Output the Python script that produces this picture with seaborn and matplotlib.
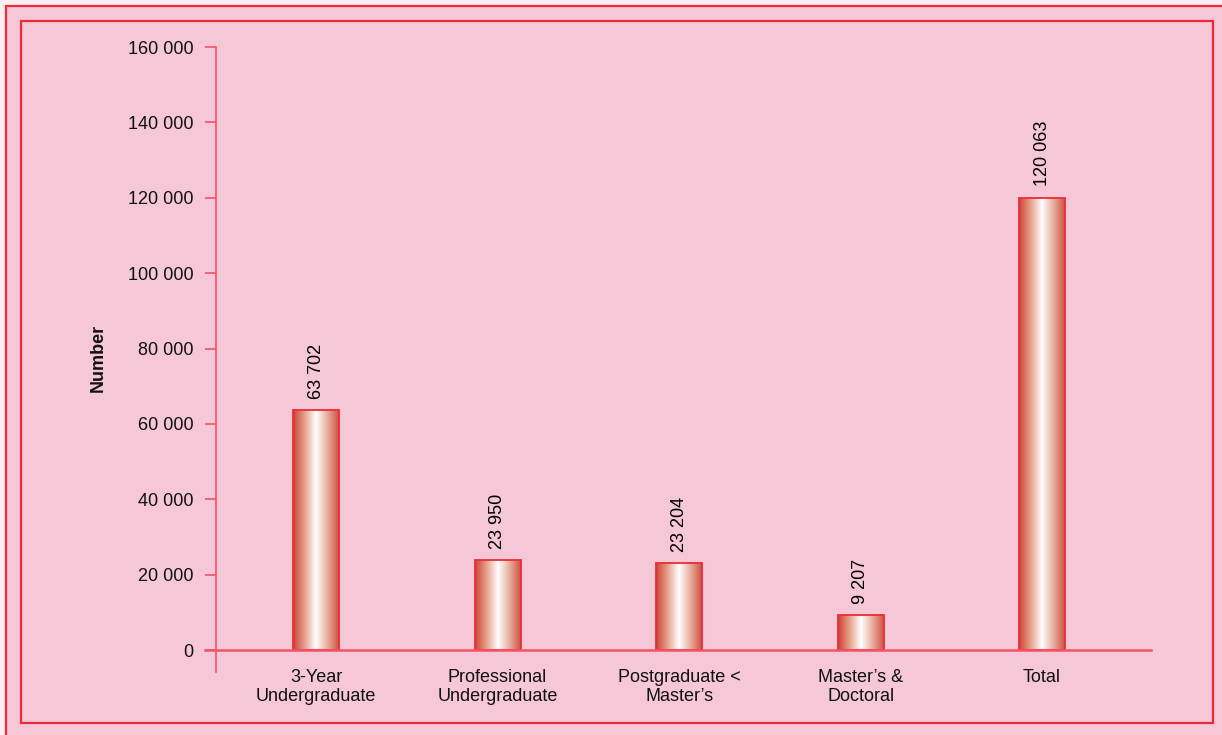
import numpy as np
import pandas as pd
import matplotlib
matplotlib.use("Agg")
import matplotlib.pyplot as plt
from matplotlib.patches import Rectangle
from matplotlib.colors import LinearSegmentedColormap
import seaborn as sns

categories = ["3-Year\nUndergraduate", "Professional\nUndergraduate", "Postgraduate <\nMaster\u2019s",
              "Master\u2019s &\nDoctoral", "Total"]
values = [63702, 23950, 23204, 9207, 120063]
value_labels = ["63 702", "23 950", "23 204", "9 207", "120 063"]
yticks = [0, 20000, 40000, 60000, 80000, 100000, 120000, 140000, 160000]
ytick_labels = ["0", "20 000", "40 000", "60 000", "80 000", "100 000", "120 000", "140 000", "160 000"]

sns.set_theme(style="white")
plt.rcParams['font.family'] = ['Liberation Sans', 'DejaVu Sans']

PINK = "#f5c7d7"
RED = "#ee2a36"
AXRED = "#f25466"

W, H = 1222, 735
fig = plt.figure(figsize=(W / 100, H / 100), dpi=100)
fig.patch.set_facecolor("#fdeef2")

# outer pink panel with red left/top border
fig.patches.append(Rectangle((6 / W, -0.2), 1.2, (1 - 6 / H) + 0.2, transform=fig.transFigure,
                             facecolor=PINK, edgecolor=RED, linewidth=1.6, zorder=-2))
# inner frame
fig.patches.append(Rectangle((21 / W, 1 - 723 / H), (1213 - 21) / W, (723 - 21) / H,
                             transform=fig.transFigure, facecolor="none", edgecolor=RED,
                             linewidth=1.6, zorder=-1))

ax_left, ax_right = 205 / W, 1151 / W
ax_bottom, ax_top = 1 - 672 / H, 1 - 47 / H
ax = fig.add_axes([ax_left, ax_bottom, ax_right - ax_left, ax_top - ax_bottom])
ax.set_facecolor("none")

df = pd.DataFrame({"cat": categories, "val": values})
sns.barplot(data=df, x="cat", y="val", ax=ax, width=0.253, color="white",
            edgecolor=RED, linewidth=1.3, zorder=3)

cmap = LinearSegmentedColormap.from_list("g", ["#cc4236", "#e6a08a", "#ffffff", "#e9ae9c", "#cf5244"])
grad = np.linspace(0, 1, 256).reshape(1, -1)
for p in ax.patches:
    x0, y0 = p.get_x(), p.get_y()
    w, h = p.get_width(), p.get_height()
    im = ax.imshow(grad, cmap=cmap, extent=[x0, x0 + w, y0, y0 + h], aspect="auto", zorder=2.5,
                   interpolation="bicubic")
    im.set_clip_path(p)
    p.set_facecolor("none")

ylo = -5800
ax.set_ylim(ylo, 160000)
ax.set_xlim(-0.612, 4.60)

for i, (v, lab) in enumerate(zip(values, value_labels)):
    ax.annotate(lab, (i, v), xytext=(0, 8), textcoords="offset points", rotation=90,
                ha="center", va="bottom", fontsize=13, color="black")

ax.set_yticks(yticks)
ax.set_yticklabels(ytick_labels)
ax.set_xticks(range(len(categories)))
ax.set_xticklabels(categories, linespacing=1.45)
ax.tick_params(axis="y", length=8, width=1.2, color=AXRED, pad=8.5, left=True,
               labelsize=13, labelcolor="#111111")
ax.tick_params(axis="x", length=0, pad=13.5, labelsize=13, labelcolor="#111111")

for s in ["top", "right"]:
    ax.spines[s].set_visible(False)
ax.spines["left"].set_position(("data", -0.551))
ax.spines["left"].set_color(AXRED)
ax.spines["left"].set_linewidth(1.2)
ax.spines["bottom"].set_position(("data", 0))
ax.spines["bottom"].set_color(AXRED)
ax.spines["bottom"].set_linewidth(1.8)
ax.spines["bottom"].set_zorder(4)

ax.set_xlabel("")
ax.set_ylabel("")
fig.text(98 / W, 1 - 358 / H, "Number", rotation=90, ha="center", va="center",
         fontsize=13, fontweight="bold", color="#111111")

fig.savefig("out.png", dpi=100, facecolor=fig.get_facecolor())
